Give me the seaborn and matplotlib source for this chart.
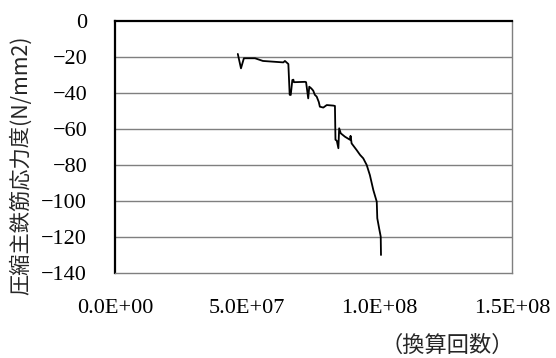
import matplotlib
matplotlib.use("Agg")
import matplotlib.pyplot as plt
import seaborn as sns
import pandas as pd

# Converted load cycles (millions) and compressive stress in main rebar (N/mm2)
cycles_m = [46.4, 47.6, 48.7, 52.9, 55.9, 63.6, 64.2, 65.5, 66.0, 66.4,
            67.0, 67.4, 67.6, 71.8, 72.2, 73.0, 73.4, 74.2, 74.9, 75.5,
            76.2, 77.0, 77.4, 78.7, 80.0, 82.5, 83.1, 83.3, 83.8, 84.4,
            84.7, 85.3, 86.9, 88.8, 89.0, 89.4, 91.3, 92.6, 93.8, 95.1,
            96.3, 97.6, 98.9, 99.1, 99.8, 100.4, 100.5]
stress = [-18.3, -26.3, -20.7, -20.7, -22.2, -23.0, -22.2, -23.9, -41.0, -41.1,
          -32.8, -32.6, -34.0, -33.8, -34.0, -43.0, -36.5, -37.5, -38.7, -41.0,
          -42.0, -45.0, -47.6, -48.1, -46.7, -47.0, -47.2, -66.0, -66.5, -70.7,
          -59.6, -62.4, -64.3, -66.0, -63.8, -68.0, -71.7, -74.4, -76.3, -80.0,
          -85.6, -93.9, -100.4, -109.6, -115.2, -119.8, -130.0]

x_ticks = [0.0, 5.0e7, 1.0e8, 1.5e8]
x_tick_labels = ["0.0E+00", "5.0E+07", "1.0E+08", "1.5E+08"]
y_ticks = [0, -20, -40, -60, -80, -100, -120, -140]

y_title = "圧縮主鉄筋応力度(N/mm2)"
x_title = "（換算回数）"

df = pd.DataFrame({"cycles": [c * 1e6 for c in cycles_m], "stress": stress})

sns.set_theme(style="white")
plt.rcParams["font.family"] = ["Liberation Serif", "DejaVu Serif"]

W, H = 556, 358
fig = plt.figure(figsize=(W / 100, H / 100), dpi=100)
ax = fig.add_axes([115 / W, 1 - 273 / H, (512 - 115) / W, (273 - 21) / H])

sns.lineplot(data=df, x="cycles", y="stress", ax=ax, sort=False,
             estimator=None, color="black", linewidth=1.3)

ax.set_xlim(0, 1.5e8)
ax.set_ylim(-140, 0)
ax.set_xticks(x_ticks)
ax.set_xticklabels(x_tick_labels)
ax.set_yticks(y_ticks)
ax.set_yticklabels([str(v).replace("-", "\u2212") for v in y_ticks])
for lab in ax.get_xticklabels() + ax.get_yticklabels():
    lab.set_fontfamily(["Liberation Serif", "DejaVu Serif"])

# horizontal gridlines at each stress step
ax.grid(False)
for v in y_ticks[1:-1]:
    ax.axhline(v, color="#7f7f7f", linewidth=1.0, zorder=0)

for side in ["right", "bottom"]:
    ax.spines[side].set_color("#7f7f7f")
    ax.spines[side].set_linewidth(1.0)
for side in ["left", "top"]:
    ax.spines[side].set_color("black")
    ax.spines[side].set_linewidth(1.6)

ax.tick_params(axis="both", length=0, labelsize=16, colors="black")
ax.tick_params(axis="x", pad=19)
ax.tick_params(axis="y", pad=20)
ax.set_xlabel("")
ax.set_ylabel("")

fig.text(21 / W, 1 - 165 / H, y_title, rotation=90, ha="center", va="center",
         fontsize=15.3, family=["Noto Sans CJK JP", "DejaVu Sans"])
fig.text(447 / W, 1 - 345 / H, x_title, ha="center", va="center",
         fontsize=16, family=["Noto Sans CJK JP", "DejaVu Sans"])

fig.savefig("out.png", dpi=100)
